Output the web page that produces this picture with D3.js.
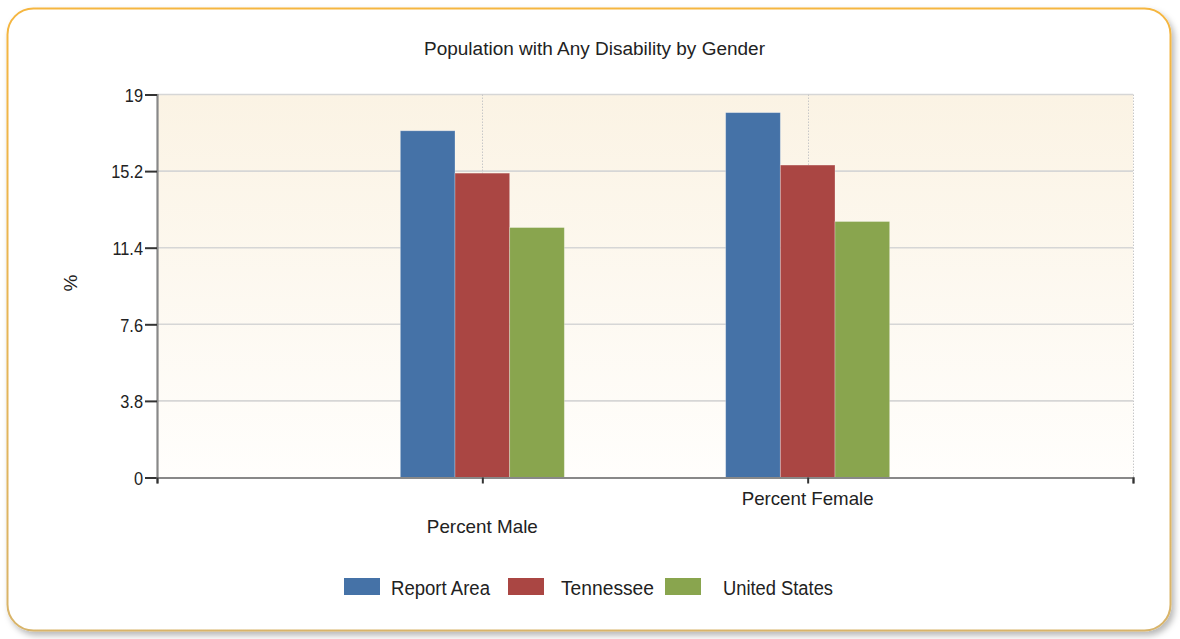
<!DOCTYPE html>
<html>
<head>
<meta charset="utf-8">
<script src="https://cdn.jsdelivr.net/npm/d3@7"></script>
<style>
  html, body { margin: 0; padding: 0; background: #ffffff; }
  svg { display: block; font-family: "Liberation Sans", Arial, sans-serif; }
</style>
</head>
<body>
<svg id="chart" width="1180" height="639"></svg>
<script>
// Chart data
const categories = ["Percent Male", "Percent Female"];
const seriesNames = ["Report Area", "Tennessee", "United States"];
const reportArea = [17.2, 18.1];
const tennessee = [15.1, 15.5];
const unitedStates = [12.4, 12.7];
const yTicks = [0, 3.8, 7.6, 11.4, 15.2, 19];
const colors = ["#4572a7", "#aa4643", "#89a54e"];

const seriesValues = [reportArea, tennessee, unitedStates];

const svg = d3.select("#chart");
const defs = svg.append("defs");

// Narrow the glyphs of a text selection to a fraction of their natural width
function condense(sel, factor) {
  sel.each(function () {
    const w = this.getComputedTextLength();
    d3.select(this).attr("textLength", w * factor).attr("lengthAdjust", "spacingAndGlyphs");
  });
}

// Card shadow + plot background gradient
const shadow = defs.append("filter").attr("id", "shadow")
  .attr("x", "-5%").attr("y", "-5%").attr("width", "110%").attr("height", "115%");
shadow.append("feDropShadow").attr("dx", 3).attr("dy", 4).attr("stdDeviation", 3)
  .attr("flood-color", "#000").attr("flood-opacity", 0.28);

const bg = defs.append("linearGradient").attr("id", "plotBg")
  .attr("x1", 0).attr("y1", 0).attr("x2", 0).attr("y2", 1);
bg.append("stop").attr("offset", "0%").attr("stop-color", "#fbf3e4");
bg.append("stop").attr("offset", "100%").attr("stop-color", "#fffefc");

const cardStroke = defs.append("linearGradient").attr("id", "cardStroke")
  .attr("x1", 0).attr("y1", 0).attr("x2", 0).attr("y2", 1);
cardStroke.append("stop").attr("offset", "0%").attr("stop-color", "#f5b640");
cardStroke.append("stop").attr("offset", "100%").attr("stop-color", "#d8b46a");

// Card
svg.append("rect")
  .attr("x", 7.5).attr("y", 8.5).attr("width", 1163).attr("height", 622)
  .attr("rx", 26).attr("ry", 26)
  .attr("fill", "#ffffff")
  .attr("stroke", "url(#cardStroke)").attr("stroke-width", 2)
  .attr("filter", "url(#shadow)");

// Plot area
const plot = { left: 157, right: 1133, top: 94.5, bottom: 477.5 };

const x = d3.scaleLinear().domain([0, categories.length + 1]).range([plot.left, plot.right]);
const y = d3.scaleLinear().domain([0, 19]).range([plot.bottom, plot.top]);
const inner = d3.scaleBand().domain(seriesNames).range([-82, 82]).padding(0);

svg.append("rect")
  .attr("x", plot.left).attr("y", plot.top)
  .attr("width", plot.right - plot.left).attr("height", plot.bottom - plot.top)
  .attr("fill", "url(#plotBg)");

// Horizontal grid lines
svg.append("g").selectAll("line").data(yTicks.filter(d => d > 0)).join("line")
  .attr("x1", plot.left).attr("x2", plot.right)
  .attr("y1", d => y(d)).attr("y2", d => y(d))
  .attr("stroke", "#d6d6d6").attr("stroke-width", 1.6);

// Vertical dotted grid lines
const xGrid = d3.range(1, categories.length + 2);
svg.append("g").selectAll("line").data(xGrid).join("line")
  .attr("x1", d => Math.round(x(d)) + 0.5).attr("x2", d => Math.round(x(d)) + 0.5)
  .attr("y1", plot.top).attr("y2", plot.bottom)
  .attr("stroke", "#c8c8c8").attr("stroke-width", 1)
  .attr("stroke-dasharray", "1.5,1.5");

// Bars
const groups = svg.append("g").selectAll("g").data(seriesNames).join("g")
  .attr("fill", (d, i) => colors[i]);
groups.selectAll("rect")
  .data((name, si) => categories.map((c, ci) => ({ ci, v: seriesValues[si][ci], name })))
  .join("rect")
  .attr("x", d => x(d.ci + 1) + inner(d.name))
  .attr("width", inner.bandwidth())
  .attr("y", d => y(d.v))
  .attr("height", d => y(0) - y(d.v))
  .attr("stroke", "rgba(255,255,255,0.35)").attr("stroke-width", 0.8);

// Y axis
const yAxis = d3.axisLeft(y).tickValues(yTicks).tickSize(12).tickPadding(2)
  .tickFormat(d => d3.format("")(d));
const yg = svg.append("g").attr("transform", `translate(${plot.left},0)`).call(yAxis);
yg.select(".domain").attr("stroke", "#888").attr("stroke-width", 2.2);
yg.selectAll(".tick line").attr("stroke", "#333").attr("stroke-width", 2);
yg.selectAll(".tick text").attr("fill", "#222")
  .style("font-family", "'Liberation Sans', Arial, sans-serif").style("font-size", "19px")
  .attr("dy", "0.36em")
  .call(condense, 0.86);

// X axis
const xAxis = d3.axisBottom(x).tickValues(d3.range(0, categories.length + 2))
  .tickSize(6).tickFormat("");
const xg = svg.append("g").attr("transform", `translate(0,${plot.bottom})`).call(xAxis);
xg.select(".domain").attr("stroke", "#888").attr("stroke-width", 2.2);
xg.selectAll(".tick line").attr("stroke", "#333").attr("stroke-width", 2);

// Category labels (staggered)
svg.append("g").selectAll("text").data(categories).join("text")
  .attr("x", (d, i) => x(i + 1))
  .attr("y", (d, i) => i % 2 === 0 ? 533 : 505)
  .attr("text-anchor", "middle")
  .attr("fill", "#222").style("font-size", "19px")
  .attr("lengthAdjust", "spacingAndGlyphs")
  .attr("textLength", (d, i) => i === 0 ? 111 : 132)
  .text(d => d);

// Title
svg.append("text")
  .attr("x", 594.5).attr("y", 55)
  .attr("text-anchor", "middle")
  .attr("fill", "#222").style("font-size", "18px")
  .attr("lengthAdjust", "spacingAndGlyphs")
  .attr("textLength", 341)
  .text("Population with Any Disability by Gender");

// Y axis title
svg.append("text")
  .attr("transform", "translate(77,283) rotate(-90)")
  .attr("text-anchor", "middle")
  .attr("fill", "#222").style("font-size", "19px")
  .text("%");

// Legend
const legendItems = [
  { swatch: 344, text: 391, len: 99 },
  { swatch: 508, text: 561, len: 93 },
  { swatch: 665, text: 723, len: 110 }
];
const legend = svg.append("g").selectAll("g").data(seriesNames).join("g");
legend.append("rect")
  .attr("x", (d, i) => legendItems[i].swatch).attr("y", 578)
  .attr("width", 36).attr("height", 17)
  .attr("fill", (d, i) => colors[i]);
legend.append("text")
  .attr("x", (d, i) => legendItems[i].text).attr("y", 595)
  .attr("lengthAdjust", "spacingAndGlyphs")
  .attr("textLength", (d, i) => legendItems[i].len)
  .attr("fill", "#222").style("font-size", "20px")
  .text(d => d);
</script>
</body>
</html>
